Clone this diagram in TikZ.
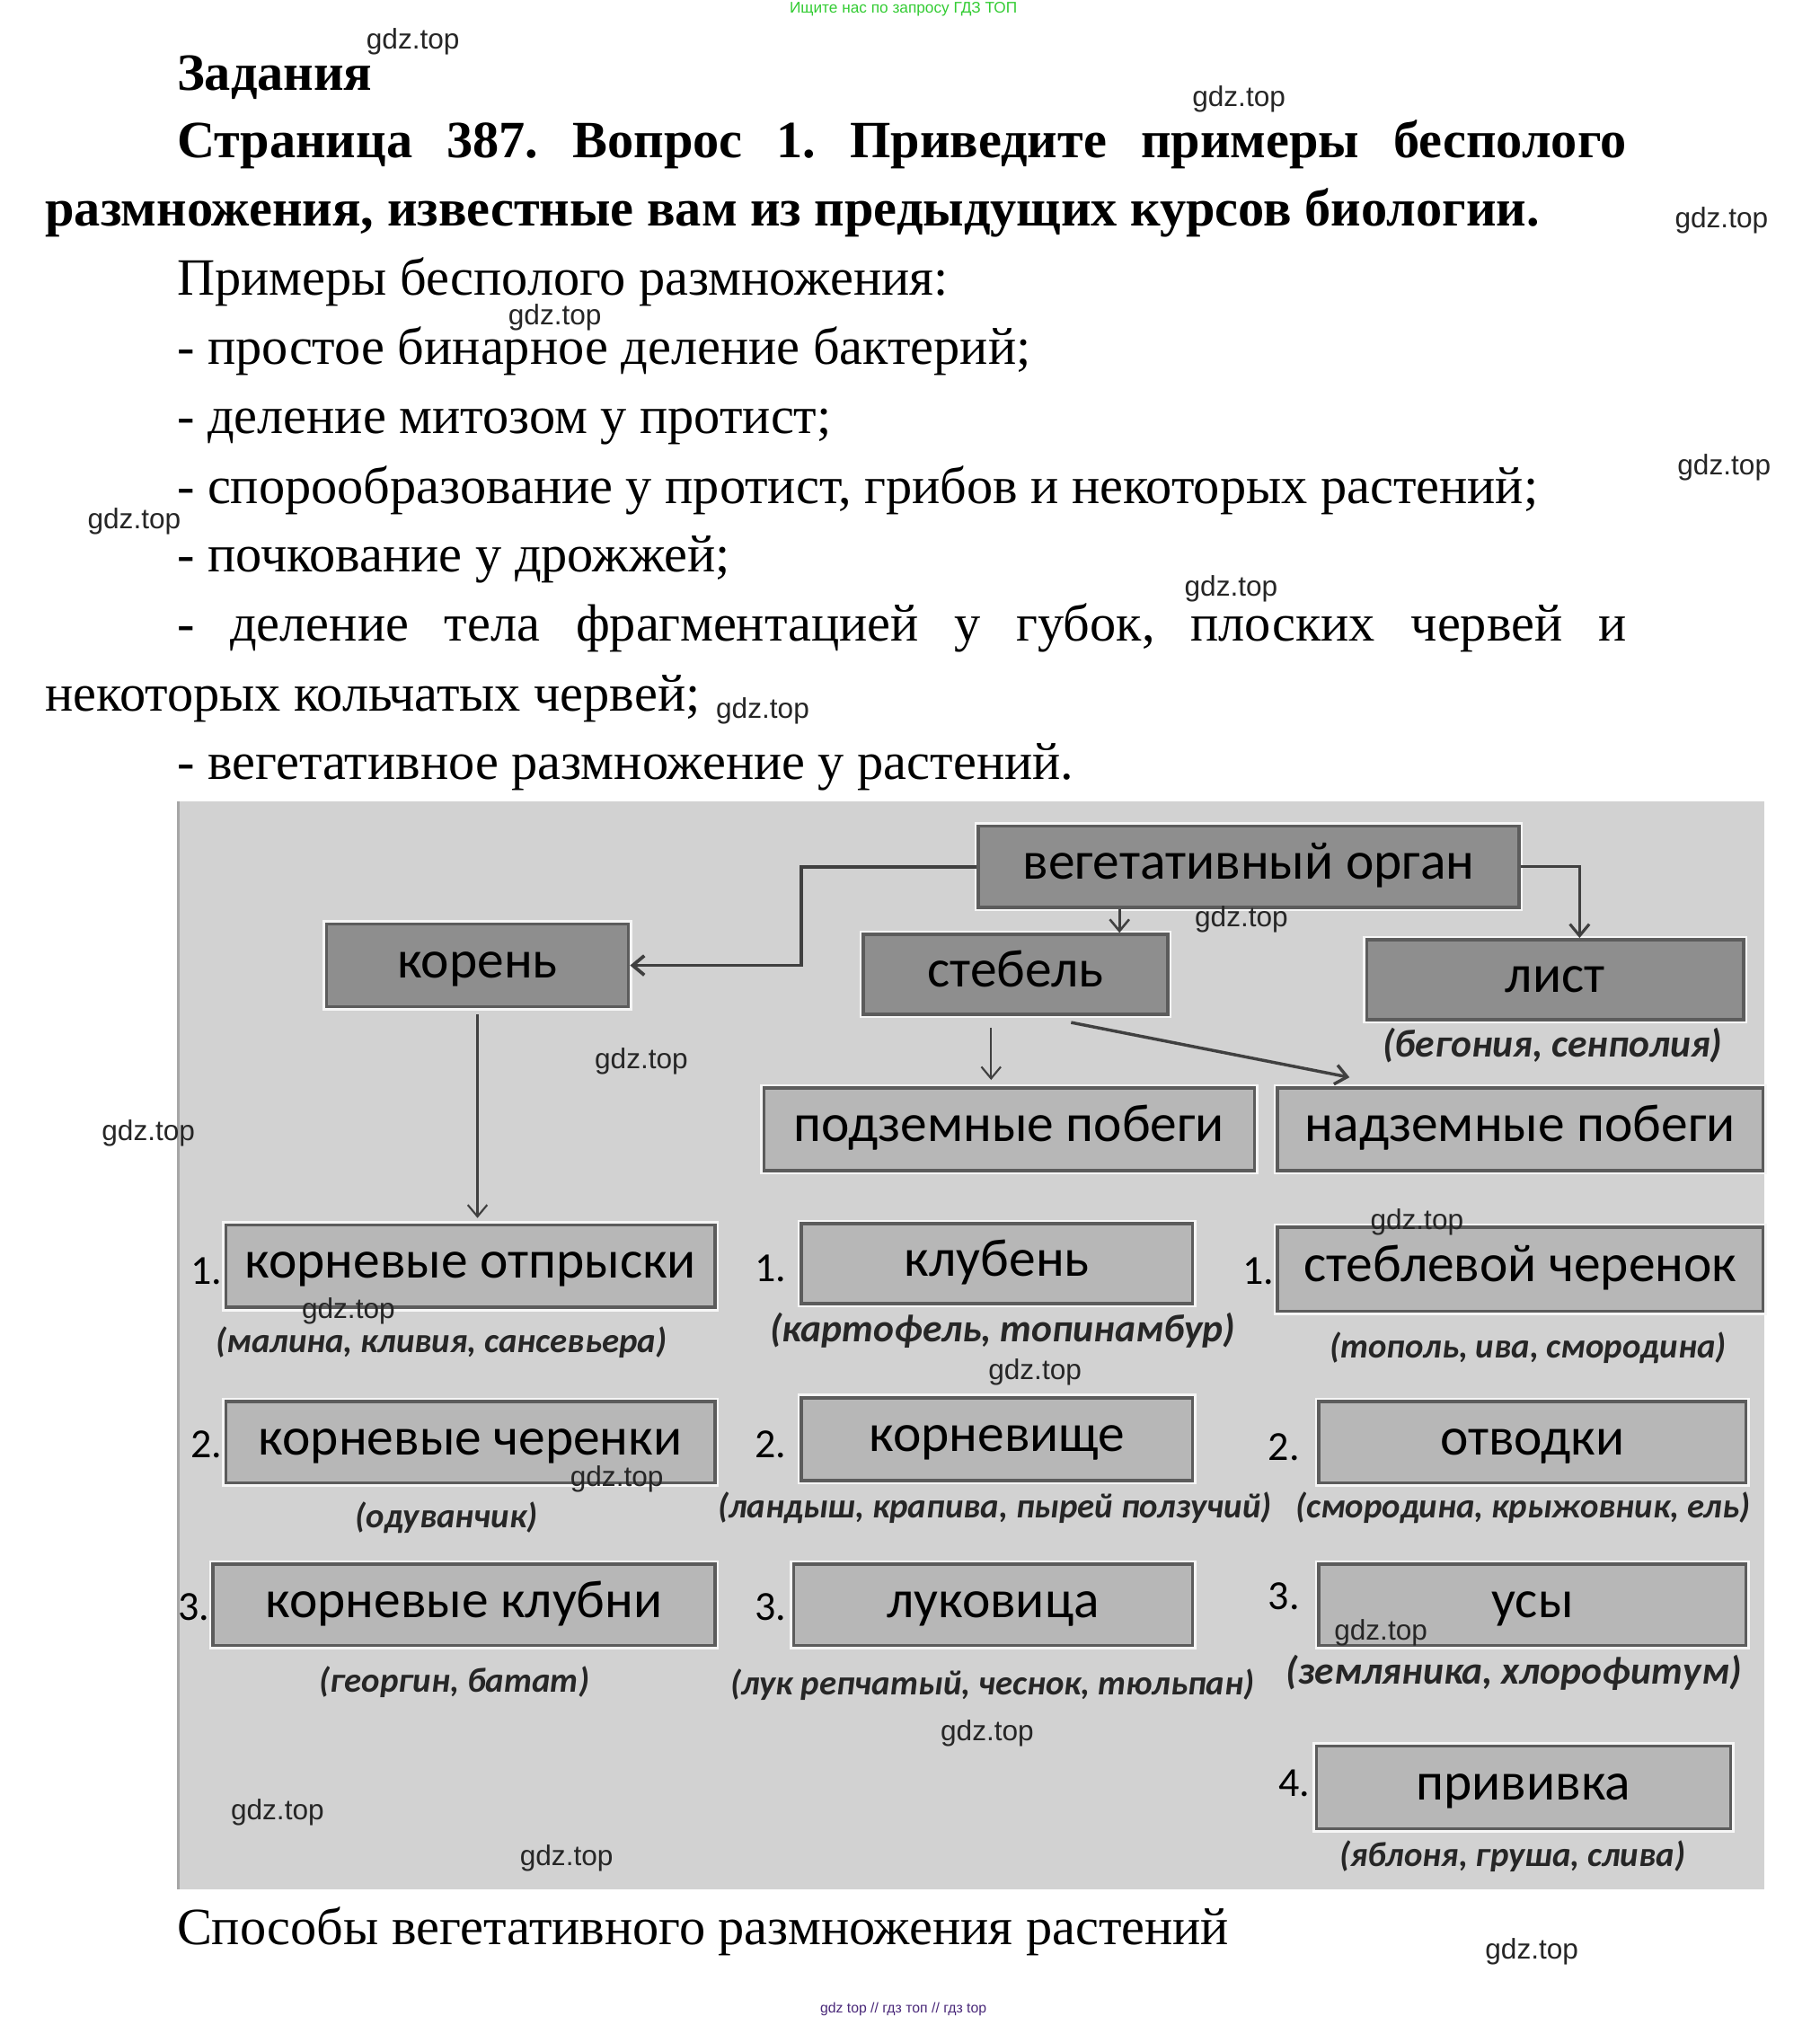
\documentclass[tikz,border=0pt]{standalone}
\usepackage{fontspec}
\setmainfont{Liberation Serif}
\newfontfamily\boxfont{Carlito}
\newfontfamily\wmfont{Liberation Sans}
\usetikzlibrary{arrows.meta}
\frenchspacing

\definecolor{panelgray}{HTML}{D2D2D2}
\definecolor{boxdark}{HTML}{8E8E8E}
\definecolor{boxlight}{HTML}{B7B7B7}
\definecolor{boxline}{HTML}{5C5C5C}
\definecolor{adgreen}{HTML}{33CC33}
\definecolor{adpurple}{HTML}{4B2A7A}

\tikzset{
  txt/.style={anchor=base west, inner sep=0pt, font=\fontsize{40.6}{48}\selectfont},
  hdr/.style={anchor=base west, inner sep=0pt, font=\fontsize{40.6}{48}\selectfont\bfseries},
  darkbox/.style={draw=boxline, line width=2.5pt, fill=boxdark, inner sep=0pt, text height=19pt, text depth=0pt,
    preaction={draw=white!80!panelgray, line width=6pt}, font=\boxfont\fontsize{41.4}{48}\selectfont},
  lightbox/.style={darkbox, fill=boxlight},
  numlbl/.style={inner sep=0pt, font=\boxfont\fontsize{32}{38}\selectfont},
  exlbl/.style={inner sep=0pt, font=\boxfont\fontsize{27}{32}\selectfont\bfseries\itshape, text=black!85},
  exbig/.style={exlbl, font=\boxfont\fontsize{30.3}{36}\selectfont\bfseries\itshape},
  conn/.style={draw=black!75, line width=1.5pt, -{Straight Barb[length=9pt,width=15pt]}},
  wmark/.style={inner sep=0pt, font=\wmfont\fontsize{22}{26}\selectfont, text=black!85}
}

\begin{document}
\begin{tikzpicture}[x=1pt, y=-1pt]
\useasboundingbox (0,0) rectangle (1410,1576);
\fill[white] (0,0) rectangle (1410,1576);

\node[inner sep=0pt, font=\wmfont\fontsize{12}{14}\selectfont, text=adgreen] (adtop) at (700,7) {Ищите нас по запросу ГДЗ ТОП};

\node[hdr] (zad) at (137,70) {Задания};
\node[hdr] (q1) at (137,122) {\makebox[1123pt][s]{Страница 387. Вопрос 1. Приведите примеры бесполого}};
\node[hdr] (q2) at (35,175) {размножения, известные вам из предыдущих курсов биологии.};
\node[txt] (a0) at (137,229) {Примеры бесполого размножения:};
\node[txt] (a1) at (137,282) {- простое бинарное деление бактерий;};
\node[txt] (a2) at (137,336) {- деление митозом у протист;};
\node[txt] (a3) at (137,390) {- спорообразование у протист, грибов и некоторых растений;};
\node[txt] (a4) at (137,443) {- почкование у дрожжей;};
\node[txt] (a5) at (137,497) {\makebox[1123pt][s]{- деление тела фрагментацией у губок, плоских червей и}};
\node[txt] (a6) at (35,551) {некоторых кольчатых червей;};
\node[txt] (a7) at (137,604) {- вегетативное размножение у растений.};

\fill[panelgray] (137,621) rectangle (1367,1464);
\draw[black!35, line width=2pt] (138,621) -- (138,1464);

\node[darkbox, minimum width=419pt, minimum height=63pt] (organ) at (967.5,671.5) {вегетативный орган};
\node[darkbox, minimum width=234pt, minimum height=64pt] (koren) at (370,748) {корень};
\node[darkbox, minimum width=236pt, minimum height=62pt] (stebel) at (787,755) {стебель};
\node[darkbox, minimum width=292pt, minimum height=62pt] (list) at (1205,759) {лист};
\node[exbig] (exlist) at (1203,810) {(бегония, сенполия)};

\node[lightbox, minimum width=380pt, minimum height=64pt] (podzem) at (782,875) {подземные побеги};
\node[lightbox, minimum width=376pt, minimum height=64pt] (nadzem) at (1178,875) {надземные побеги};

\node[lightbox, minimum width=379pt, minimum height=64pt] (otpr) at (364.5,981) {корневые отпрыски};
\node[lightbox, minimum width=303pt, minimum height=62pt] (klub) at (772.5,979) {клубень};
\node[lightbox, minimum width=376pt, minimum height=65pt] (stebch) at (1178,983.5) {стеблевой черенок};
\node[lightbox, minimum width=379pt, minimum height=63pt] (korch) at (364.5,1117.5) {корневые черенки};
\node[lightbox, minimum width=303pt, minimum height=64pt] (korvi) at (772.5,1115) {корневище};
\node[lightbox, minimum width=331pt, minimum height=63pt] (otvod) at (1187.5,1117.5) {отводки};
\node[lightbox, minimum width=389pt, minimum height=63pt] (korkl) at (359.5,1243.5) {корневые клубни};
\node[lightbox, minimum width=309pt, minimum height=63pt] (lukov) at (769.5,1243.5) {луковица};
\node[lightbox, minimum width=331pt, minimum height=63pt] (usy) at (1187.5,1243.5) {усы};
\node[lightbox, minimum width=321pt, minimum height=64pt] (priv) at (1180.5,1385) {прививка};

\node[numlbl] (n1a) at (160,985) {1.};
\node[numlbl] (n1b) at (597,983) {1.};
\node[numlbl] (n1c) at (975,985) {1.};
\node[numlbl] (n2a) at (160,1119) {2.};
\node[numlbl] (n2b) at (597,1119) {2.};
\node[numlbl] (n2c) at (995,1121) {2.};
\node[numlbl] (n3a) at (150,1245) {3.};
\node[numlbl] (n3b) at (597,1245) {3.};
\node[numlbl] (n3c) at (995,1237) {3.};
\node[numlbl] (n4c) at (1003,1382) {4.};

\node[exlbl] (exotpr) at (342,1040) {(малина, кливия, сансевьера)};
\node[exbig] (exklub) at (777,1031) {(картофель, топинамбур)};
\node[exlbl] (exstebch) at (1184,1044) {(тополь, ива, смородина)};
\node[exlbl] (exkorch) at (346,1176) {(одуванчик)};
\node[exlbl] (exkorvi) at (771,1168) {(ландыш, крапива, пырей ползучий)};
\node[exlbl] (exotvod) at (1180,1168) {(смородина, крыжовник, ель)};
\node[exlbl] (exkorkl) at (352,1303) {(георгин, батат)};
\node[exlbl] (exlukov) at (769,1305) {(лук репчатый, чеснок, тюльпан)};
\node[exbig] (exusy) at (1173,1296) {(земляника, хлорофитум)};
\node[exlbl] (expriv) at (1172,1438) {(яблоня, груша, слива)};

\draw[conn, line width=2.6pt] (organ.west) -- ++(-136,0) |- (koren.east);
\draw[conn, line width=1.8pt] ([xshift=-100pt]organ.south) -- ([xshift=-100pt]organ.south |- stebel.north);
\draw[conn, line width=2.2pt] (organ.east) -| ([xshift=19pt]list.north);
\draw[conn, shorten <=5pt, shorten >=4pt] (koren.south) -- (koren.south |- otpr.north);
\draw[conn, shorten <=9pt, shorten >=5pt] ([xshift=-19pt]stebel.south) -- ([xshift=-19pt]stebel.south |- podzem.north);
\draw[conn, line width=2.4pt] ([shift={(43,5)}]stebel.south) -- ([shift={(57,-7)}]nadzem.north west);

\node[txt] (cap) at (137,1507) {Способы вегетативного размножения растений};

\node[wmark] (w1) at (320,32) {gdz.top};
\node[wmark] (w2) at (960,77) {gdz.top};
\node[wmark] (w3) at (1334,171) {gdz.top};
\node[wmark] (w4) at (430,246) {gdz.top};
\node[wmark] (w5) at (1336,362) {gdz.top};
\node[wmark] (w6) at (104,404) {gdz.top};
\node[wmark] (w7) at (954,456) {gdz.top};
\node[wmark] (w8) at (591,551) {gdz.top};
\node[wmark] (w9) at (962,712) {gdz.top};
\node[wmark] (w10) at (497,822) {gdz.top};
\node[wmark] (w11) at (115,878) {gdz.top};
\node[wmark] (w12) at (1098,947) {gdz.top};
\node[wmark] (w13) at (270,1016) {gdz.top};
\node[wmark] (w14) at (802,1063) {gdz.top};
\node[wmark] (w15) at (478,1146) {gdz.top};
\node[wmark] (w16) at (1070,1265) {gdz.top};
\node[wmark] (w17) at (765,1343) {gdz.top};
\node[wmark] (w18) at (215,1404) {gdz.top};
\node[wmark] (w19) at (439,1440) {gdz.top};
\node[wmark] (w20) at (1187,1512) {gdz.top};

\node[inner sep=0pt, font=\wmfont\fontsize{11}{13}\selectfont, text=adpurple] (adbot) at (700,1557) {gdz top // гдз топ // гдз top};
\end{tikzpicture}
\end{document}
